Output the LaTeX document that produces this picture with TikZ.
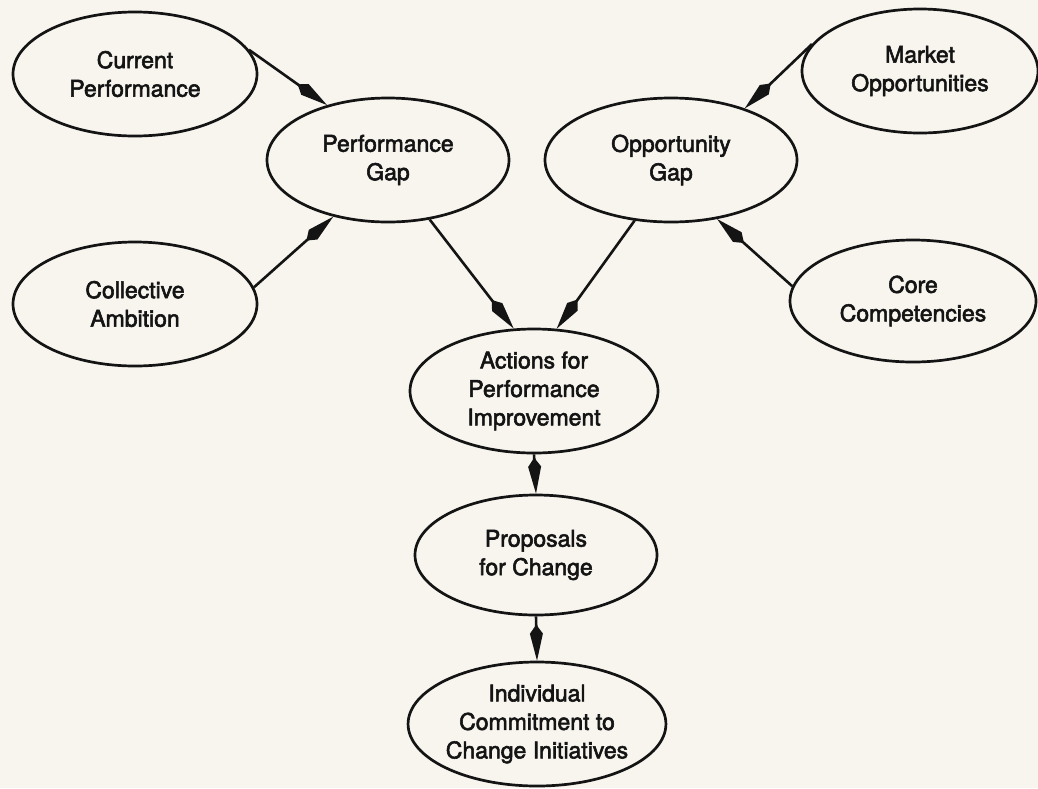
\documentclass[tikz,border=0pt]{standalone}
\usepackage{fontspec}
\setmainfont{TeX Gyre Heros}[FakeBold=2.5]
\usetikzlibrary{shapes.geometric,arrows.meta}
\definecolor{paper}{RGB}{248,245,239}
\definecolor{ink}{RGB}{20,20,20}
\begin{document}
\begin{tikzpicture}[x=1pt,y=-1pt,
  bubble/.style={ellipse, draw=ink, line width=2.7pt, inner sep=0pt, align=center,
    font=\fontsize{23}{28.5}\selectfont, text=ink},
  conn/.style={draw=ink, line width=2.6pt, -{Kite[length=36pt,width=13pt,inset=9pt]}}]
\fill[paper] (0,0) rectangle (1038,788);
\useasboundingbox (0,0) rectangle (1038,788);

\node[bubble, minimum width=244pt, minimum height=124pt] (cp) at (135,74) {Current\\Performance};
\node[bubble, minimum width=242pt, minimum height=124pt] (pg) at (388,160) {Performance\\Gap};
\node[bubble, minimum width=244pt, minimum height=124pt] (ca) at (135,304) {Collective\\Ambition};
\node[bubble, minimum width=236pt, minimum height=124pt] (mo) at (920,71) {Market\\Opportunities};
\node[bubble, minimum width=252pt, minimum height=124pt] (og) at (671,160) {Opportunity\\Gap};
\node[bubble, minimum width=246pt, minimum height=122pt] (cc) at (913,301) {Core\\Competencies};
\node[bubble, minimum width=248pt, minimum height=124pt] (act) at (534,391) {Actions for\\Performance\\Improvement};
\node[bubble, minimum width=242pt, minimum height=120pt] (prop) at (536,555) {Proposals\\for Change};
\node[bubble, minimum width=242pt, minimum height=124pt] (ind) at (537,724) {Individual\\Commitment to\\Change Initiatives};

\draw[conn] (cp.12.7) -- (pg.138.3);
\draw[conn] (ca.8.3) -- (pg.226.4);
\draw[conn] (pg.-55.3) -- (act.108);
\draw[conn] (mo.166.1) -- (og.35.8);
\draw[conn] (cc.173.2) -- (og.-52.2);
\draw[conn] (og.239) -- (act.70.6);
\draw[conn] (act.south) -- (prop.north);
\draw[conn] (prop.south) -- (ind.north);
\end{tikzpicture}
\end{document}
